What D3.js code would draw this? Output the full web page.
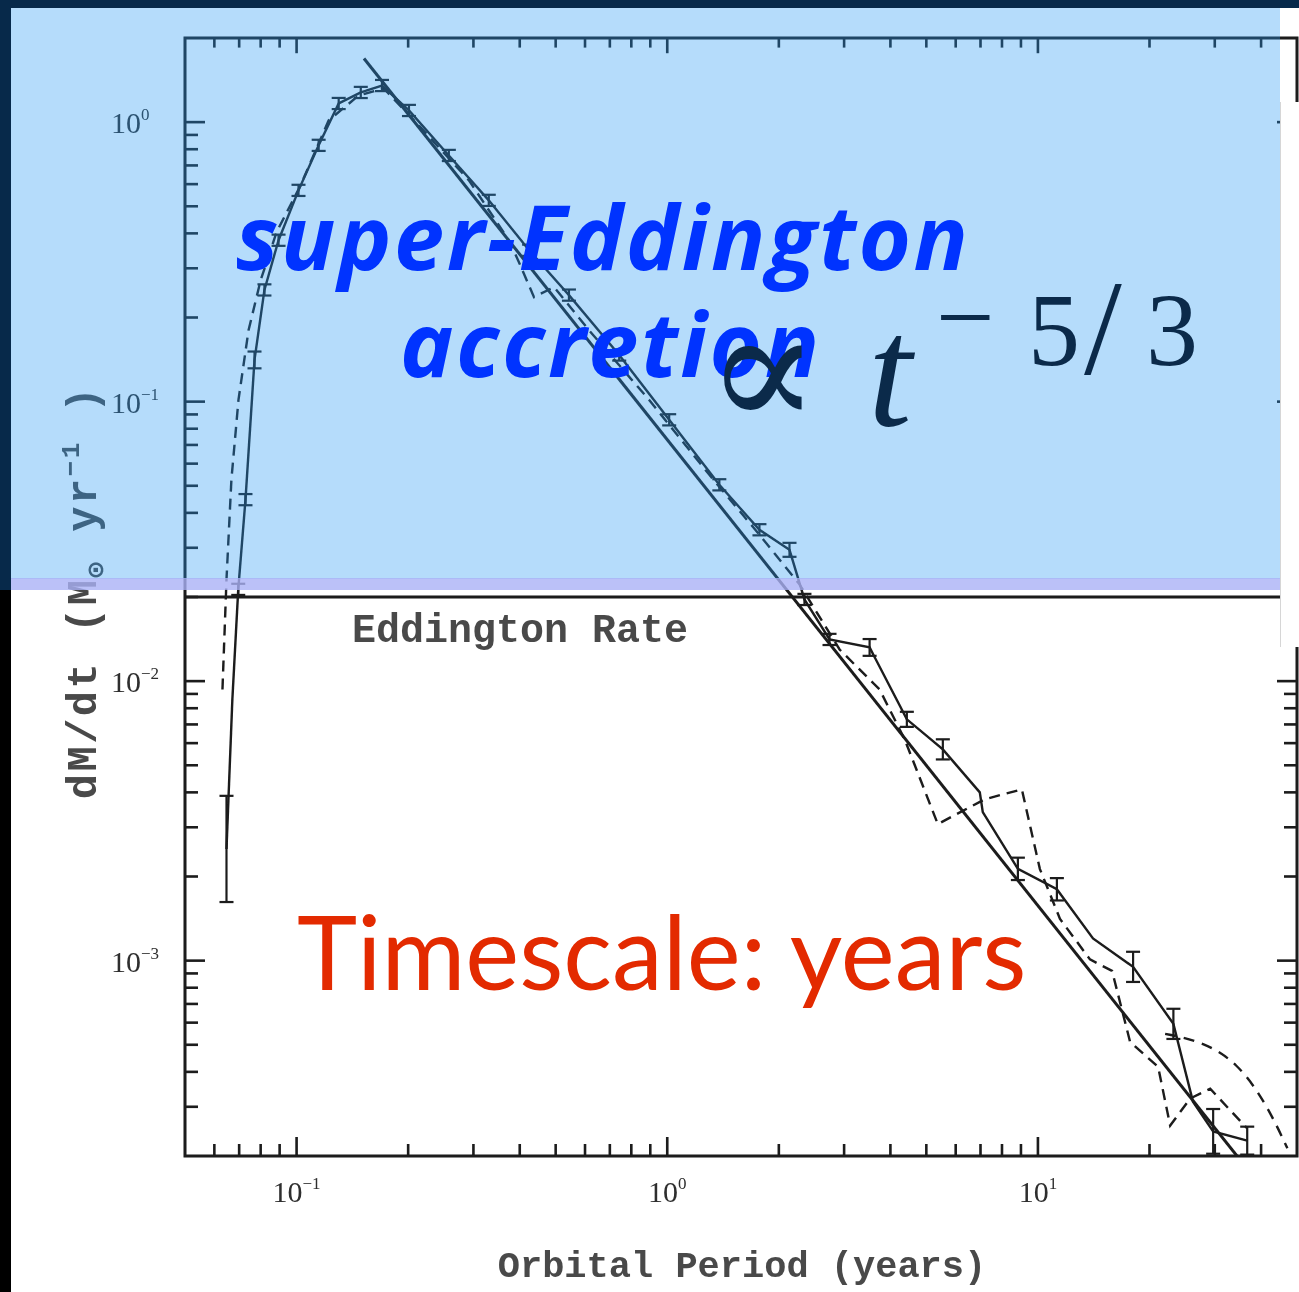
<!DOCTYPE html>
<html>
<head>
<meta charset="utf-8">
<script src="https://cdn.jsdelivr.net/npm/d3@7"></script>
<style>
  html, body { margin: 0; padding: 0; background: #07294a; overflow: hidden; }
</style>
</head>
<body>
<div id="chart"></div>
<script>
// ---- data ----
const eddingtonRate = 0.02;

// simulation (solid, with error bars); err = half width in dex
const simT = [0.0647, 0.0671, 0.0696, 0.0728, 0.0770, 0.0819, 0.0894, 0.1012, 0.1147, 0.1299,
  0.149, 0.170, 0.201, 0.2575, 0.330, 0.424, 0.543, 0.742, 1.012, 1.382,
  1.773, 2.137, 2.345, 2.74, 3.515, 4.43, 5.54, 6.97, 7.10, 8.83,
  11.25, 14.08, 18.06, 23.2, 26.2, 29.7, 36.7];
const simM = [0.00251, 0.0086, 0.0213, 0.0446, 0.141, 0.251, 0.378, 0.570, 0.826, 1.166,
  1.277, 1.352, 1.101, 0.760, 0.525, 0.348, 0.2405, 0.1468, 0.0861, 0.0504,
  0.0348, 0.0295, 0.0196, 0.0141, 0.0132, 0.0073, 0.0057, 0.0040, 0.0034, 0.00213,
  0.0018, 0.0012, 0.00095, 0.000594, 0.000313, 0.000245, 0.000227];
const simErr = [0.19, 0, 0.02, 0.02, 0.03, 0.02, 0.02, 0.02, 0.02, 0.02,
  0.02, 0.02, 0.02, 0.02, 0.02, 0.02, 0.02, 0.02, 0.02, 0.02,
  0.02, 0.025, 0.02, 0.02, 0.03, 0.027, 0.036, 0, 0, 0.04,
  0.04, 0, 0.054, 0.054, 0, 0.08, 0.05];

// second run (dashed)
const dashT = [0.0631, 0.0647, 0.0667, 0.0697, 0.0742, 0.080, 0.0883, 0.1025, 0.122, 0.147,
  0.172, 0.2137, 0.2917, 0.374, 0.398, 0.437, 0.495, 0.615, 0.894, 1.299,
  1.773, 2.274, 2.917, 3.74, 4.37, 5.37, 7.19, 9.05, 10.12, 11.47,
  13.82, 15.85, 17.73, 21.1, 22.74, 25.74, 29.16, 36.7];
const dashM = [0.00934, 0.0231, 0.0525, 0.1014, 0.180, 0.272, 0.404, 0.594, 1.014, 1.245,
  1.319, 0.973, 0.619, 0.378, 0.3155, 0.2366, 0.257, 0.180, 0.1014, 0.0547,
  0.0334, 0.0222, 0.01298, 0.00934, 0.00619, 0.00308, 0.00378, 0.0041, 0.00213, 0.00141,
  0.00101, 0.000919, 0.000512, 0.000417, 0.000257, 0.000321, 0.000348, 0.000251];

// dashed tail arc
const arcT = [22.04, 27.4, 34.5, 41.6, 47.1];
const arcM = [0.000547, 0.000517, 0.000435, 0.000303, 0.000213];

// t^-5/3 fit line (end points)
const fitT = [0.152, 35.2];
const fitM = [1.69, 0.000193];

const xMajor = [0.1, 1, 10];
const xExp = ["\u22121", "0", "1"];
const yMajor = [1, 0.1, 0.01, 0.001];
const yExp = ["0", "\u22121", "\u22122", "\u22123"];

// ---- layout ----
const W = 1299, H = 1292;
const P = { left: 185, right: 1297, top: 38, bottom: 1156 };

const x = d3.scaleLog().domain([0.05, 50]).range([P.left, P.right]);
const y = d3.scaleLog().domain([2e-4, 2]).range([P.bottom, P.top]);

const svg = d3.select("#chart").append("svg")
  .attr("width", W).attr("height", H)
  .style("display", "block");

const defs = svg.append("defs");
defs.append("filter").attr("id", "scan")
  .append("feGaussianBlur").attr("stdDeviation", 0.7);
defs.append("clipPath").attr("id", "clip")
  .append("rect")
  .attr("x", P.left).attr("y", P.top)
  .attr("width", P.right - P.left).attr("height", P.bottom - P.top);

// slide background
svg.append("rect").attr("width", W).attr("height", H).attr("fill", "#07294a");
svg.append("rect").attr("x", 0).attr("y", 590).attr("width", 11).attr("height", H - 590).attr("fill", "#000");
svg.append("rect").attr("x", 11).attr("y", 8).attr("width", W - 11).attr("height", H - 8).attr("fill", "#fff");

// ---- scanned plot ----
const ink = "#1b1b1b";
const g = svg.append("g").attr("filter", "url(#scan)");

g.append("rect")
  .attr("x", P.left).attr("y", P.top)
  .attr("width", P.right - P.left).attr("height", P.bottom - P.top)
  .attr("fill", "none").attr("stroke", ink).attr("stroke-width", 3);

// ticks
function minors(lo, hi) {
  const out = [];
  for (let e = -5; e <= 2; e++) {
    for (let k = 2; k <= 9; k++) {
      const v = k * Math.pow(10, e);
      if (v > lo * 1.001 && v < hi * 0.999) out.push(v);
    }
  }
  return out;
}
const xTicks = xMajor.map(v => ({ v, len: 19 })).concat(minors(0.05, 50).map(v => ({ v, len: 12 })));
const yTicks = yMajor.map(v => ({ v, len: 20 })).concat(minors(2e-4, 2).map(v => ({ v, len: 13 })));

const tk = g.append("g").attr("stroke", ink).attr("stroke-width", 2.6);
tk.selectAll(".xb").data(xTicks).join("line")
  .attr("x1", d => x(d.v)).attr("x2", d => x(d.v))
  .attr("y1", P.bottom).attr("y2", d => P.bottom - d.len);
tk.selectAll(".xt").data(xTicks).join("line")
  .attr("x1", d => x(d.v)).attr("x2", d => x(d.v))
  .attr("y1", P.top).attr("y2", d => P.top + d.len * 0.8);
tk.selectAll(".yl").data(yTicks).join("line")
  .attr("y1", d => y(d.v)).attr("y2", d => y(d.v))
  .attr("x1", P.left).attr("x2", d => P.left + d.len);
tk.selectAll(".yr").data(yTicks).join("line")
  .attr("y1", d => y(d.v)).attr("y2", d => y(d.v))
  .attr("x1", P.right).attr("x2", d => P.right - d.len);

// tick labels
const lab = "#2e2e2e";
const xl = g.selectAll(".xlab").data(xMajor).join("text")
  .attr("x", d => x(d)).attr("y", P.bottom + 46)
  .attr("text-anchor", "middle")
  .attr("font-family", "Liberation Serif, serif").attr("font-size", 30)
  .attr("fill", lab);
xl.append("tspan").text("10");
xl.append("tspan").attr("dy", -13).attr("font-size", 17).text((d, i) => xExp[i]);

const yl = g.selectAll(".ylab").data(yMajor).join("text")
  .attr("x", 111).attr("y", d => y(d) + 11)
  .attr("font-family", "Liberation Serif, serif").attr("font-size", 30)
  .attr("fill", lab);
yl.append("tspan").text("10");
yl.append("tspan").attr("dy", -13).attr("font-size", 17).text((d, i) => yExp[i]);

// axis titles
g.append("text")
  .attr("x", 742).attr("y", 1277)
  .attr("text-anchor", "middle")
  .attr("font-family", "Liberation Mono, monospace").attr("font-weight", "bold")
  .attr("font-size", 37).attr("fill", "#4a4a4a")
  .text("Orbital Period (years)");

const yt = g.append("text")
  .attr("transform", "translate(96,592) rotate(-90)")
  .attr("text-anchor", "middle")
  .attr("font-family", "Liberation Mono, monospace").attr("font-weight", "bold")
  .attr("font-size", 42).attr("letter-spacing", 2.5).attr("fill", "#4a4a4a");
yt.append("tspan").text("dM/dt (M");
yt.append("tspan").attr("font-size", 26).attr("dy", 8).text("\u2299");
yt.append("tspan").attr("dy", -8).text(" yr");
yt.append("tspan").attr("font-size", 26).attr("dy", -17).text("\u22121");
yt.append("tspan").attr("dy", 17).text(" )");

// Eddington rate
g.append("line")
  .attr("x1", P.left).attr("x2", P.right)
  .attr("y1", y(eddingtonRate)).attr("y2", y(eddingtonRate))
  .attr("stroke", ink).attr("stroke-width", 3.2);
g.append("text")
  .attr("x", 352).attr("y", 642)
  .attr("font-family", "Liberation Mono, monospace").attr("font-weight", "bold")
  .attr("font-size", 40).attr("fill", "#4a4a4a")
  .text("Eddington Rate");

// curves
const curves = g.append("g").attr("clip-path", "url(#clip)").attr("fill", "none");
const line = d3.line().x(d => x(d[0])).y(d => y(d[1]));

const sim = simT.map((t, i) => [t, simM[i], simErr[i]]);
const dash = dashT.map((t, i) => [t, dashM[i]]);
const arc = arcT.map((t, i) => [t, arcM[i]]);
const fit = fitT.map((t, i) => [t, fitM[i]]);

curves.append("path").attr("d", line(dash))
  .attr("stroke", ink).attr("stroke-width", 2.4).attr("stroke-dasharray", "11,7");
curves.append("path").attr("d", d3.line().curve(d3.curveBasis).x(d => x(d[0])).y(d => y(d[1]))(arc))
  .attr("stroke", ink).attr("stroke-width", 2.4).attr("stroke-dasharray", "11,8");
curves.append("path").attr("d", line(fit))
  .attr("stroke", ink).attr("stroke-width", 3);
curves.append("path").attr("d", line(sim))
  .attr("stroke", ink).attr("stroke-width", 2.4);

// error bars
const eb = curves.selectAll(".eb").data(sim.filter(d => d[2] > 0)).join("g")
  .attr("stroke", ink).attr("stroke-width", 2.2);
eb.append("line")
  .attr("x1", d => x(d[0])).attr("x2", d => x(d[0]))
  .attr("y1", d => y(d[1] * Math.pow(10, d[2]))).attr("y2", d => y(d[1] / Math.pow(10, d[2])));
eb.append("line")
  .attr("x1", d => x(d[0]) - 7).attr("x2", d => x(d[0]) + 7)
  .attr("y1", d => y(d[1] * Math.pow(10, d[2]))).attr("y2", d => y(d[1] * Math.pow(10, d[2])));
eb.append("line")
  .attr("x1", d => x(d[0]) - 7).attr("x2", d => x(d[0]) + 7)
  .attr("y1", d => y(d[1] / Math.pow(10, d[2]))).attr("y2", d => y(d[1] / Math.pow(10, d[2])));

// ---- slide overlays ----
svg.append("rect")
  .attr("x", 11).attr("y", 8).attr("width", 1269).attr("height", 571)
  .attr("fill", "rgb(38,152,243)").attr("opacity", 0.34);
svg.append("rect")
  .attr("x", 11).attr("y", 578).attr("width", 1269).attr("height", 12)
  .attr("fill", "#aab1f6").attr("opacity", 0.8);

// white box on the right
svg.append("rect")
  .attr("x", 1280).attr("y", 102).attr("width", 19).attr("height", 545)
  .attr("fill", "#fff");
svg.append("line")
  .attr("x1", 1280.5).attr("x2", 1280.5).attr("y1", 102).attr("y2", 647)
  .attr("stroke", "#d6d6d6").attr("stroke-width", 1);

// top navy strip
svg.append("rect").attr("width", W).attr("height", 8).attr("fill", "#07294a");

// annotations
const blueText = svg.append("g")
  .attr("font-family", "Open Sans, sans-serif").attr("font-weight", "bold").attr("font-style", "italic")
  .attr("font-size", 90).attr("letter-spacing", 2.5).attr("fill", "#0033ff");
blueText.append("text").attr("x", 236).attr("y", 270).text("super-Eddington");
blueText.append("text").attr("x", 400).attr("y", 377).text("accretion");

const formula = svg.append("g").attr("fill", "#0b2a4a");
formula.append("text")
  .attr("x", 706).attr("y", 428)
  .attr("font-family", "DejaVu Serif, serif").attr("font-size", 168)
  .text("\u221D");
formula.append("text")
  .attr("x", 868).attr("y", 425)
  .attr("font-family", "Liberation Serif, serif").attr("font-style", "italic").attr("font-size", 158)
  .text("t");
const sup = formula.append("text")
  .attr("font-family", "Liberation Serif, serif").attr("font-size", 104);
sup.append("tspan").attr("x", 936).attr("y", 352).text("\u2212");
sup.append("tspan").attr("x", 1028).attr("y", 365).text("5");
sup.append("tspan").attr("x", 1084).attr("y", 374).attr("font-size", 136).text("/");
sup.append("tspan").attr("x", 1146).attr("y", 365).attr("font-size", 104).text("3");

svg.append("text")
  .attr("x", 297).attr("y", 990)
  .attr("font-family", "Lato, sans-serif").attr("font-size", 102)
  .attr("fill", "#e32a00")
  .text("Timescale: years");
</script>
</body>
</html>
